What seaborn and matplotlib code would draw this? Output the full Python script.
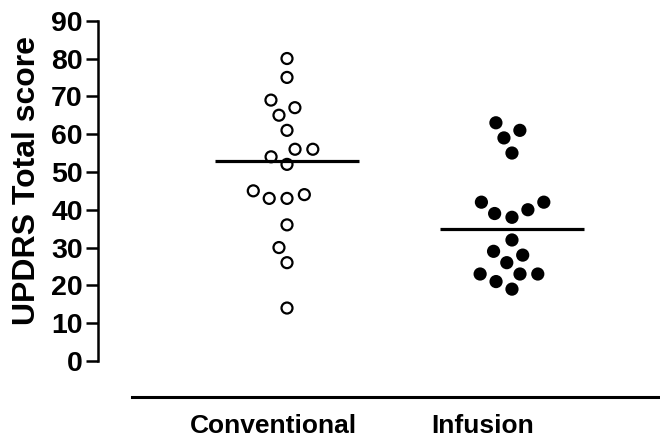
import numpy as np
import pandas as pd
import matplotlib
matplotlib.use("Agg")
import matplotlib.pyplot as plt
import seaborn as sns

# values
groups = ["Conventional", "Infusion"]
conventional = [80, 75, 69, 67, 65, 61, 56, 56, 54, 52, 45, 43, 43, 44, 36, 30, 26, 14]
infusion = [63, 61, 59, 55, 42, 42, 40, 39, 38, 32, 29, 28, 26, 23, 23, 23, 21, 19]
y_ticks = [0, 10, 20, 30, 40, 50, 60, 70, 80, 90]

df = pd.DataFrame({
    "group": ["Conventional"] * len(conventional) + ["Infusion"] * len(infusion),
    "score": conventional + infusion,
})

sns.set_style("white")
plt.rcParams["font.family"] = ["Liberation Sans", "DejaVu Sans"]
plt.rcParams["font.weight"] = "bold"
for k in ["text.color", "axes.labelcolor", "xtick.color", "ytick.color", "axes.edgecolor"]:
    plt.rcParams[k] = "black"

fig = plt.figure(figsize=(6.6, 4.37), dpi=100)
ax = fig.add_axes([0.2, 0.174, 0.8, 0.7786])
ax.set_xlim(-0.689, 1.658)
ax.set_ylim(0, 90)

# swarm laid out with a wider spacing (like the column scatter), then drawn smaller
sns.swarmplot(data=df, x="group", y="score", hue="group", order=groups,
              palette={"Conventional": "white", "Infusion": "black"},
              edgecolor="black", linewidth=1.6, size=10.6, legend=False, ax=ax)
ax.set_xlim(-0.689, 1.658)
ax.set_ylim(0, 90)
fig.canvas.draw()
for c in ax.collections:
    if "draw" in c.__dict__:
        del c.draw
    c.set_sizes([7.9 ** 2])
    c.set_clip_on(False)

# median lines
for i, g in enumerate(groups):
    med = df.loc[df["group"] == g, "score"].median()
    ax.hlines(med, i - 0.32, i + 0.32, color="black", linewidth=2.3, zorder=5)

ax.set_yticks(y_ticks)
ax.set_xticks([-0.06, 0.87])
ax.tick_params(axis="x", length=0, pad=12, labelsize=19)
ax.tick_params(axis="y", length=9, width=1.8, pad=2, direction="out", left=True, labelsize=20.5)
ax.set_yticklabels([str(t) for t in y_ticks], fontweight="bold")
ax.set_xticklabels(groups, fontweight="bold")
ax.set_xlabel("")
ax.set_ylabel("UPDRS Total score", fontsize=23, fontweight="bold")
ax.yaxis.set_label_coords(-0.171, 0.53)

for s in ["top", "right"]:
    ax.spines[s].set_visible(False)
ax.spines["left"].set_position(("outward", 24.5))
ax.spines["left"].set_linewidth(1.8)
ax.spines["left"].set_bounds(0, 90)
ax.spines["bottom"].set_position(("outward", 26))
ax.spines["bottom"].set_linewidth(2.2)

fig.savefig("out.png", dpi=100)
